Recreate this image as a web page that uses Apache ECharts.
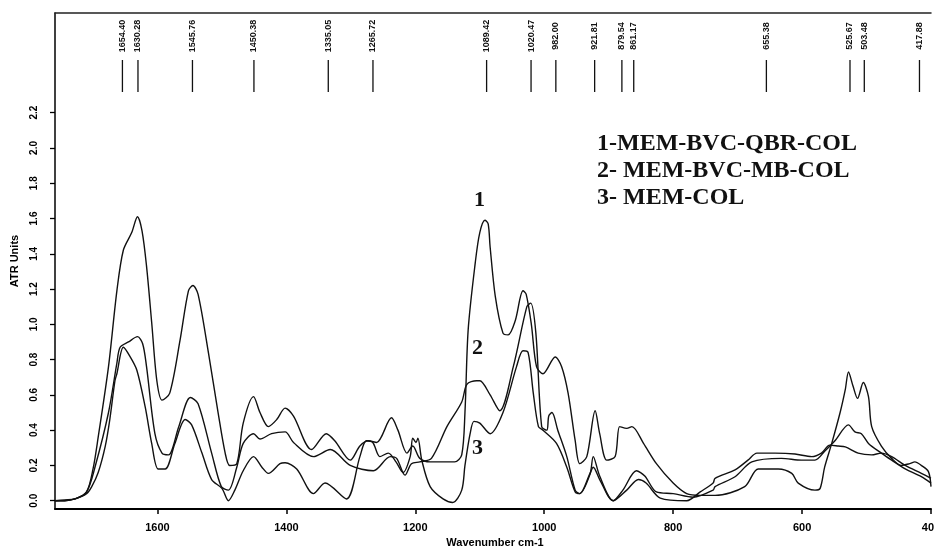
<!DOCTYPE html>
<html>
<head>
<meta charset="utf-8">
<script src="https://cdn.jsdelivr.net/npm/echarts@6/dist/echarts.min.js"></script>
<style>html,body{margin:0;padding:0;background:#fff}#c{width:934px;height:549px}</style>
</head>
<body>
<div id="c"></div>
<script>
// ---- data ----
const wn1 = [1759,1744,1728,1710,1700,1692,1676,1663,1653,1640,1631,1624,1617,1609,1601,1593,1581,1565,1552,1545,1537,1521,1506,1495,1488,1477,1467,1451,1441,1428,1415,1402,1389,1361,1338,1325,1301,1286,1273,1260,1237,1227,1213,1204,1193,1177,1154,1139,1128,1123,1118,1107,1100,1092,1087,1084,1076,1064,1056,1045,1033,1028,1020,1012,1002,983,973,963,952,945,934,921,914,903,890,883,872,864,846,826,800,779,758,735,689,668,637,616,606,580,572,565,554,541,533,528,521,514,505,497,492,477,461,446,433,425,415,404,400];
const ab1 = [0.00,0.00,0.01,0.05,0.18,0.36,0.76,1.19,1.42,1.52,1.61,1.53,1.33,1.01,0.68,0.57,0.61,0.91,1.19,1.22,1.17,0.84,0.50,0.27,0.20,0.21,0.44,0.59,0.50,0.42,0.46,0.525,0.48,0.29,0.38,0.34,0.23,0.31,0.34,0.33,0.47,0.40,0.27,0.31,0.24,0.22,0.22,0.22,0.26,0.50,0.97,1.35,1.52,1.59,1.57,1.44,1.16,0.95,0.94,1.02,1.19,1.17,1.00,0.76,0.72,0.815,0.76,0.61,0.34,0.21,0.25,0.51,0.38,0.23,0.25,0.42,0.41,0.42,0.325,0.21,0.10,0.04,0.03,0.03,0.08,0.18,0.18,0.155,0.10,0.06,0.07,0.19,0.325,0.50,0.63,0.73,0.65,0.58,0.67,0.59,0.42,0.31,0.24,0.20,0.21,0.22,0.20,0.165,0.08];

const wn2 = [1759,1744,1728,1710,1697,1676,1663,1658,1645,1631,1623,1617,1604,1593,1583,1567,1549,1537,1516,1501,1490,1477,1467,1451,1441,1423,1402,1389,1358,1332,1301,1265,1239,1229,1216,1206,1193,1175,1151,1128,1120,1105,1100,1084,1069,1048,1027,1021,1013,1004,996,993,988,979,965,952,945,929,924,914,893,878,857,844,826,800,769,738,735,704,678,632,601,580,565,549,528,518,508,497,477,461,440,415,400];
const ab2 = [0.00,0.005,0.01,0.05,0.19,0.50,0.78,0.87,0.90,0.93,0.89,0.76,0.38,0.27,0.26,0.42,0.585,0.55,0.27,0.08,0.06,0.19,0.325,0.38,0.35,0.38,0.39,0.33,0.25,0.29,0.20,0.17,0.25,0.24,0.145,0.21,0.22,0.24,0.42,0.56,0.66,0.68,0.68,0.60,0.51,0.76,1.10,1.12,0.95,0.42,0.40,0.48,0.50,0.40,0.25,0.06,0.04,0.15,0.25,0.14,0.00,0.06,0.17,0.14,0.05,0.04,0.02,0.06,0.08,0.136,0.22,0.24,0.23,0.23,0.28,0.34,0.43,0.39,0.38,0.325,0.27,0.23,0.18,0.136,0.10];

const wn3 = [1759,1744,1728,1710,1702,1692,1681,1674,1666,1663,1653,1643,1632,1619,1609,1599,1588,1573,1557,1547,1531,1516,1500,1490,1480,1467,1451,1438,1428,1410,1402,1384,1358,1340,1307,1286,1276,1266,1255,1242,1230,1219,1208,1204,1199,1196,1190,1177,1157,1142,1128,1123,1115,1109,1100,1084,1064,1043,1033,1025,1017,1009,1002,981,965,952,945,929,924,914,893,872,854,842,820,779,758,738,735,704,684,670,642,611,585,570,557,544,533,513,492,477,461,440,415,400];
const ab3 = [0.00,0.00,0.01,0.04,0.08,0.16,0.31,0.46,0.68,0.72,0.87,0.82,0.74,0.53,0.325,0.18,0.18,0.325,0.46,0.43,0.27,0.12,0.07,0.00,0.06,0.17,0.25,0.19,0.155,0.21,0.215,0.18,0.04,0.10,0.01,0.25,0.34,0.33,0.25,0.27,0.22,0.16,0.25,0.355,0.33,0.355,0.23,0.08,0.01,-0.01,0.06,0.20,0.38,0.45,0.44,0.38,0.50,0.76,0.85,0.84,0.61,0.42,0.40,0.325,0.19,0.05,0.04,0.155,0.19,0.12,0.00,0.06,0.12,0.10,0.015,0.00,0.05,0.10,0.127,0.175,0.23,0.27,0.27,0.265,0.25,0.27,0.315,0.31,0.305,0.27,0.26,0.27,0.25,0.20,0.155,0.127];

const peakWn = [1654.40,1630.28,1545.76,1450.38,1335.05,1265.72,1089.42,1020.47,982.00,921.81,879.54,861.17,655.38,525.67,503.48,417.88];
const xTicks = [400,600,800,1000,1200,1400,1600];
const yTicks = [0,0.2,0.4,0.6,0.8,1.0,1.2,1.4,1.6,1.8,2.0,2.2];
const legendLines = ['1-MEM-BVC-QBR-COL','2- MEM-BVC-MB-COL','3- MEM-COL'];
const curveTags = ['1','2','3'];

const pairs = (w, a) => w.map((x, i) => [x, a[i]]);

const chart = echarts.init(document.getElementById('c'), null, {renderer: 'canvas'});
const lineStyle = {color: '#111', width: 1.4};
const mkLine = (w, a) => ({
  type: 'line', data: pairs(w, a), showSymbol: false, symbol: 'none',
  smooth: 0.3, lineStyle: lineStyle, silent: true, animation: false, clip: true
});
const tagFont = 'bold 22px "Liberation Serif"';

chart.setOption({
  animation: false,
  backgroundColor: '#fff',
  grid: {left: 55, right: 3, top: 13, bottom: 40, containLabel: false, outerBoundsMode: 'none'},
  xAxis: [{
    type: 'value', min: 400, max: 1759, inverse: true,
    name: 'Wavenumber cm-1', nameLocation: 'middle', nameGap: 28,
    nameTextStyle: {fontFamily: 'Liberation Sans', fontWeight: 'bold', fontSize: 11, color: '#000', padding: [0, 0, 0, 4]},
    axisLine: {show: true, onZero: false, lineStyle: {color: '#000', width: 2}},
    axisTick: {show: true, length: 5, lineStyle: {color: '#000', width: 1.5}, customValues: xTicks},
    axisLabel: {customValues: xTicks, formatter: v => String(v), fontFamily: 'Liberation Sans', fontWeight: 'bold', fontSize: 11, color: '#000', margin: 13},
    splitLine: {show: false}
  }, {
    type: 'value', min: 400, max: 1759, inverse: true, position: 'top',
    axisLine: {show: true, onZero: false, lineStyle: {color: '#222', width: 1.5}},
    axisTick: {show: false}, axisLabel: {show: false}, splitLine: {show: false}
  }],
  yAxis: {
    type: 'value', min: -0.047, max: 2.765,
    name: 'ATR Units', nameLocation: 'middle', nameGap: 35, nameRotate: 90,
    nameTextStyle: {fontFamily: 'Liberation Sans', fontWeight: 'bold', fontSize: 11, color: '#000'},
    axisLine: {show: true, onZero: false, lineStyle: {color: '#000', width: 1.5}},
    axisTick: {show: true, length: 5, lineStyle: {color: '#000', width: 1.3}, customValues: yTicks},
    axisLabel: {customValues: yTicks, rotate: 90, formatter: v => v.toFixed(1), fontFamily: 'Liberation Sans', fontWeight: 'bold', fontSize: 10, color: '#000', margin: 16},
    splitLine: {show: false}
  },
  series: [
    mkLine(wn1, ab1), mkLine(wn2, ab2), mkLine(wn3, ab3),
    {
      type: 'custom', clip: false, silent: true,
      data: peakWn.map(w => [w, 0]),
      encode: {x: 0, y: 1},
      renderItem: (params, api) => {
        const x = api.coord([api.value(0), 0])[0];
        const top = params.coordSys.y;
        return {type: 'group', children: [
          {type: 'line', shape: {x1: x, y1: top + 47, x2: x, y2: top + 79}, style: {stroke: '#111', lineWidth: 1.3}},
          {type: 'text', x: x, y: top + 23, rotation: Math.PI / 2,
           style: {text: api.value(0).toFixed(2), fontSize: 9, fontWeight: 'bold', fontFamily: 'Liberation Sans', fill: '#111', align: 'center', verticalAlign: 'middle'}}
        ]};
      }
    }
  ],
  graphic: [
    ...legendLines.map((t, i) => ({type: 'text', left: 597, top: 132 + i * 27,
      style: {text: t, font: 'bold 24px "Liberation Serif"', fill: '#111'}})),
    {type: 'text', left: 474, top: 189, style: {text: curveTags[0], font: tagFont, fill: '#111'}},
    {type: 'text', left: 472, top: 337, style: {text: curveTags[1], font: tagFont, fill: '#111'}},
    {type: 'text', left: 472, top: 437, style: {text: curveTags[2], font: tagFont, fill: '#111'}}
  ]
});
</script>
</body>
</html>
